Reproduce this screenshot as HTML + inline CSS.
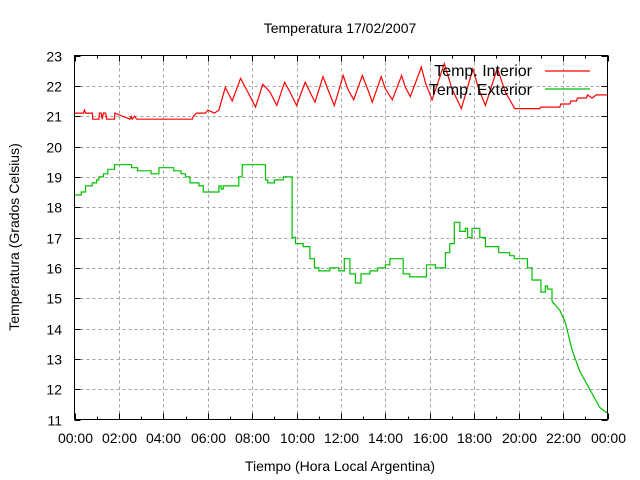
<!DOCTYPE html>
<html><head><meta charset="utf-8"><style>
html,body{margin:0;padding:0;background:#fff;}
svg{display:block;font-family:"Liberation Sans",sans-serif;}
</style></head><body>
<svg id="chart" width="640" height="480">
<text x="340" y="33" font-size="14" text-anchor="middle">Temperatura 17/02/2007</text>
<text x="340" y="471" font-size="14" text-anchor="middle">Tiempo (Hora Local Argentina)</text>
<text transform="translate(19,237) rotate(-90)" font-size="14" text-anchor="middle">Temperatura (Grados Celsius)</text>
<g id="grid"></g>
<g id="ticks"></g>
<g id="series"></g>
<rect x="74.5" y="55.5" width="533" height="364" fill="none" stroke="#000" stroke-width="1"/>
<g id="legend">
<g><text x="532" y="76" font-size="16" text-anchor="end">Temp. Interior</text><line x1="545" y1="71" x2="590" y2="71" stroke="#ff0000" stroke-width="1.2"/></g>
<g><text x="532" y="95" font-size="16" text-anchor="end">Temp. Exterior</text><line x1="545" y1="89" x2="590" y2="89" stroke="#00c000" stroke-width="1.2"/></g>
</g>
</svg>
<script>
const yTicks=[11,12,13,14,15,16,17,18,19,20,21,22,23];
const xTickHours=[0,2,4,6,8,10,12,14,16,18,20,22,24];
const xTickLabels=["00:00","02:00","04:00","06:00","08:00","10:00","12:00","14:00","16:00","18:00","20:00","22:00","00:00"];
const interiorHours=[0,0.4,0.45,0.5,0.8,0.82,1.1,1.12,1.2,1.25,1.3,1.4,1.45,1.8,1.82,2.5,2.55,2.6,2.7,2.8,5.3,5.35,5.5,5.9,6.0,6.3,6.5,6.79,7.1,7.48,7.8,8.15,8.48,8.8,9.11,9.46,9.7,10.0,10.39,10.6,10.83,11.19,11.4,11.7,12.1,12.3,12.57,12.96,13.2,13.41,13.81,14.0,14.31,14.73,14.9,15.12,15.62,15.8,16.1,16.65,17.0,17.42,17.94,18.2,18.5,19.04,19.4,19.82,20.95,21.0,21.85,21.9,22.3,22.35,22.6,22.65,23.05,23.1,23.3,23.5,24];
const interiorValues=[21.1,21.1,21.2,21.1,21.1,20.9,20.9,21.1,21.1,20.9,21.1,21.1,20.9,20.9,21.1,20.9,21.0,20.9,21.0,20.9,20.9,21.0,21.1,21.1,21.2,21.1,21.2,21.95,21.5,22.25,21.8,21.3,22.05,21.8,21.35,22.12,21.8,21.35,22.12,21.8,21.46,22.3,21.9,21.35,22.34,21.9,21.54,22.34,21.9,21.46,22.3,21.9,21.54,22.34,21.95,21.65,22.62,22.1,21.54,22.73,21.9,21.25,22.56,21.9,21.35,22.58,21.8,21.25,21.25,21.3,21.3,21.4,21.4,21.5,21.5,21.6,21.6,21.7,21.6,21.7,21.7];
const exteriorHours=[0,0.3,0.5,0.8,1.0,1.1,1.3,1.5,1.8,2.57,2.84,3.45,3.8,3.97,4.47,4.8,5.0,5.2,5.6,5.8,6.34,6.5,6.6,6.7,7.26,7.4,7.55,8.45,8.6,8.7,9.0,9.4,9.67,9.8,9.95,10.3,10.6,10.8,11.0,11.5,11.9,12.15,12.4,12.65,12.9,13.3,13.65,14.0,14.2,14.55,14.8,15.1,15.55,15.85,16.25,16.7,16.9,17.1,17.35,17.6,17.7,17.9,18.25,18.5,18.9,19.1,19.6,19.8,20.0,20.4,20.6,21.0,21.2,21.3,21.5,21.85,22.1,22.4,22.75,23.2,23.65,24];
const exteriorValues=[18.4,18.5,18.7,18.8,18.9,19.0,19.1,19.25,19.4,19.3,19.2,19.1,19.3,19.3,19.2,19.1,19.0,18.8,18.7,18.5,18.5,18.7,18.6,18.7,18.7,19.0,19.4,19.4,18.9,18.8,18.9,19.0,19.0,17.0,16.8,16.7,16.3,16.0,15.9,16.0,15.9,16.3,15.8,15.5,15.8,15.9,16.0,16.1,16.3,16.3,15.8,15.7,15.7,16.1,16.0,16.5,16.8,17.5,17.2,17.3,17.0,17.3,17.0,16.7,16.7,16.5,16.4,16.3,16.3,16.0,15.6,15.2,15.4,15.3,14.9,14.6,14.2,13.3,12.6,12.0,11.4,11.2];
const X0=74.5,X1=607.5,Y0=419.5,Y1=55.5;
const xs=h=>X0+(X1-X0)*h/24;
const ys=v=>Y0-(Y0-Y1)*(v-11)/12;
const NS="http://www.w3.org/2000/svg";
function mk(tag,attrs,parent){const e=document.createElementNS(NS,tag);for(const k in attrs)e.setAttribute(k,attrs[k]);parent.appendChild(e);return e;}
const grid=document.getElementById('grid'),ticks=document.getElementById('ticks'),series=document.getElementById('series');
yTicks.forEach(v=>{const y=Math.round(ys(v))+0.5;
 if(v>11&&v<23){const g=mk('line',{x1:X0,x2:X1,y1:y,y2:y,stroke:'#a0a0a0','stroke-dasharray':'3,3'},grid);
 
 }
 mk('line',{x1:X0,x2:X0+6,y1:y,y2:y,stroke:'#000'},ticks);
 mk('line',{x1:X1-6,x2:X1,y1:y,y2:y,stroke:'#000'},ticks);
 const t=mk('text',{x:62,y:y+5,'font-size':14,'text-anchor':'end'},ticks);t.textContent=v;
 
 
});
xTickHours.forEach((h,i)=>{const x=Math.round(xs(h))+0.5;
 if(h>0&&h<24){const g=mk('line',{x1:x,x2:x,y1:Y0,y2:Y1,stroke:'#a0a0a0','stroke-dasharray':'3,3'},grid);
 
 }
 mk('line',{x1:x,x2:x,y1:Y0,y2:Y0-6,stroke:'#000'},ticks);
 mk('line',{x1:x,x2:x,y1:Y1,y2:Y1+6,stroke:'#000'},ticks);
 if(i<xTickHours.length-1){const m=Math.round(xs(h+1))+0.5;
  mk('line',{x1:m,x2:m,y1:Y0,y2:Y0-3,stroke:'#000'},ticks);
  mk('line',{x1:m,x2:m,y1:Y1,y2:Y1+3,stroke:'#000'},ticks);}
 const t=mk('text',{x:x,y:443,'font-size':14,'text-anchor':'middle'},ticks);t.textContent=xTickLabels[i];
 
 
});
function linePath(hs,vs){let d='M'+xs(hs[0]).toFixed(1)+','+ys(vs[0]).toFixed(1);
 for(let i=1;i<hs.length;i++){d+='L'+xs(hs[i]).toFixed(1)+','+ys(vs[i]).toFixed(1);}return d;}
function stepPath(hs,vs,linearFrom){let d='M'+xs(hs[0]).toFixed(1)+','+ys(vs[0]).toFixed(1);
 for(let i=1;i<hs.length;i++){
  if(hs[i]>linearFrom){d+='L'+xs(hs[i]).toFixed(1)+','+ys(vs[i]).toFixed(1);}
  else{d+='H'+xs(hs[i]).toFixed(1)+'V'+ys(vs[i]).toFixed(1);}}
 return d;}
const pi=mk('path',{d:linePath(interiorHours,interiorValues),fill:'none',stroke:'#ff0000','stroke-width':1.2},series);


const pe=mk('path',{d:stepPath(exteriorHours,exteriorValues,21.5),fill:'none',stroke:'#00c000','stroke-width':1.2},series);


</script>
</body></html>
